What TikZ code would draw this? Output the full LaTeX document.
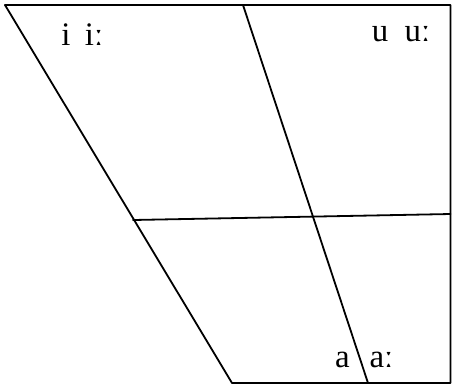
\documentclass[tikz,border=0pt]{standalone}
\usepackage{fontspec}
\setmainfont{Liberation Serif}
\begin{document}
\begin{tikzpicture}[x=1bp,y=-1bp,
  frame/.style={line width=1.8bp,black,line cap=round,line join=round},
  vowel/.style={font=\fontsize{33}{34}\selectfont,inner sep=0pt,anchor=base}]
\useasboundingbox (0,0) rectangle (453,385);
% corners
\coordinate (TL) at (5,5);
\coordinate (TR) at (450.5,5);
\coordinate (BR) at (450.5,383);
\coordinate (BL) at (232,383);
\coordinate (TM) at (243,5);
\coordinate (BM) at (368,383);
\coordinate (ML) at (133,220);
\coordinate (MR) at (450.5,214);
% outline
\draw[frame] (TL) -- (TR) -- (BR) -- (BL) -- cycle;
% inner lines
\draw[frame] (TM) -- (BM);
\draw[frame] (ML) -- (MR);
% labels
\node[vowel] (i) at (66,45) {i};
\node[vowel] (ii) at (94,45) {iː};
\node[vowel] (u) at (380,41) {u};
\node[vowel] (uu) at (417.5,41) {uː};
\node[vowel] (a) at (342.5,367) {a};
\node[vowel] (aa) at (381.5,367) {aː};
\end{tikzpicture}
\end{document}
